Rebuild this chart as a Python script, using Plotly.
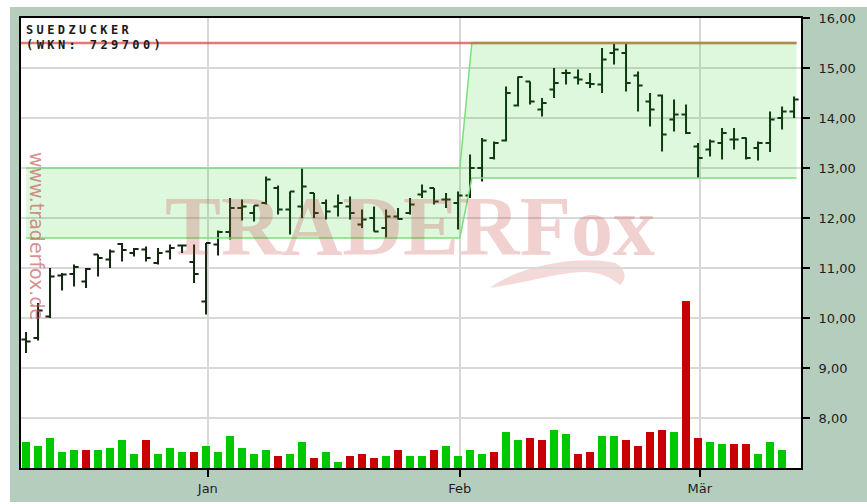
import plotly.graph_objects as go

# ---------------- data ----------------
opens = [9.57, 9.60, 10.03, 10.85, 10.88, 10.73, 11.27, 11.17, 11.48, 11.30,
         11.37, 11.10, 11.33, 11.45, 11.12, 10.33, 11.47, 11.72, 12.20, 12.10,
         12.30, 12.60, 12.17, 12.23, 12.50, 12.30, 12.23, 12.23, 11.87, 12.00,
         11.80, 12.03, 12.10, 12.47, 12.60, 12.37, 12.30, 12.45, 13.00, 13.20,
         13.55, 14.25, 14.73, 14.17, 14.57, 14.90, 14.81, 14.70, 14.67, 15.30,
         15.30, 14.85, 14.33, 14.45, 13.97, 14.07, 13.43, 13.37, 13.50, 13.57,
         13.60, 13.40, 13.50, 14.00, 14.13]
highs = [9.72, 10.30, 11.00, 10.90, 11.07, 11.00, 11.27, 11.37, 11.50, 11.40,
         11.43, 11.40, 11.47, 11.47, 11.47, 11.50, 11.75, 12.40, 12.37, 12.25,
         12.83, 12.65, 12.53, 13.00, 12.50, 12.37, 12.47, 12.43, 12.17, 12.23,
         12.17, 12.20, 12.40, 12.67, 12.60, 12.50, 12.53, 13.27, 13.60, 13.53,
         14.63, 14.83, 14.73, 14.40, 15.00, 14.97, 14.97, 14.90, 15.40, 15.50,
         15.50, 14.93, 14.50, 14.47, 14.37, 14.27, 13.50, 13.57, 13.80, 13.80,
         13.61, 13.53, 14.13, 14.23, 14.43]
lows = [9.30, 9.55, 10.00, 10.55, 10.63, 10.60, 10.83, 11.00, 11.13, 11.23,
        11.13, 11.07, 11.17, 11.30, 10.70, 10.07, 11.25, 11.57, 11.95, 11.93,
        12.27, 12.07, 11.67, 12.00, 12.00, 11.97, 12.03, 11.97, 11.80, 11.73,
        11.60, 11.97, 12.07, 12.40, 12.27, 12.20, 11.77, 12.40, 12.73, 13.17,
        13.53, 14.23, 14.27, 14.03, 14.40, 14.67, 14.67, 14.60, 14.50, 15.07,
        14.53, 14.13, 13.83, 13.33, 13.73, 13.68, 12.80, 13.23, 13.17, 13.37,
        13.17, 13.15, 13.32, 13.77, 14.00]
closes = [9.53, 10.15, 10.83, 10.87, 11.02, 10.98, 11.20, 11.33, 11.36, 11.38,
          11.20, 11.30, 11.40, 11.45, 10.88, 11.50, 11.72, 12.20, 12.23, 12.25,
          12.77, 12.17, 12.53, 12.63, 12.10, 12.13, 12.30, 12.10, 11.97, 11.73,
          12.03, 11.98, 12.27, 12.53, 12.33, 12.37, 12.45, 13.00, 13.55, 13.50,
          14.50, 14.82, 14.33, 14.30, 14.70, 14.90, 14.77, 14.68, 15.17, 15.37,
          14.70, 14.65, 14.17, 13.67, 14.07, 13.70, 13.20, 13.53, 13.70, 13.57,
          13.20, 13.50, 13.97, 14.13, 14.37]
# volume in thousand shares (last trading day has no volume yet)
volumes = [315, 270, 365, 195, 220, 220, 220, 245, 340, 170,
           340, 170, 245, 195, 195, 270, 195, 390, 245, 170,
           220, 150, 170, 315, 125, 195, 75, 150, 170, 125,
           150, 220, 150, 150, 220, 270, 150, 220, 170, 195,
           435, 340, 365, 340, 460, 410, 170, 195, 390, 390,
           340, 270, 435, 460, 435, 2000, 365, 315, 290, 290,
           290, 170, 315, 220]

month_labels = ["Jan", "Feb", "Mär"]
month_first_day = [15, 36, 56]
price_ticks = [8, 9, 10, 11, 12, 13, 14, 15, 16]

# trading channel (support / resistance band) and resistance level
band_x = [0, 36.15, 37.15, 64.2]
band_upper = [13.0, 13.0, 15.5, 15.5]
band_lower = [11.6, 11.6, 12.8, 12.8]
resistance_level = 15.5

x_range = [-0.42, 64.58]
y_range = [7, 16]
vol_range = [0, 5400]

# ---------------- derived ----------------
days = list(range(len(closes)))
vol_days = days[:len(volumes)]
vol_colors = ["#00c800" if (i == 0 or closes[i] >= closes[i - 1]) else "#c80000"
              for i in vol_days]

W, H = 867, 504
ML, MR, MT, MB = 21, 66, 18, 36
PW, PH = W - ML - MR, H - MT - MB


def px(x):
    return (x - ML) / PW


def py(y):
    return (H - MB - y) / PH


fig = go.Figure()

# band fill
fig.add_trace(go.Scatter(
    x=band_x + band_x[::-1], y=band_upper + band_lower[::-1],
    fill="toself", fillcolor="rgba(0,200,0,0.13)", mode="lines",
    line=dict(width=0), hoverinfo="skip"))
fig.add_trace(go.Scatter(x=band_x, y=band_upper, mode="lines",
                         line=dict(color="rgb(125,222,125)", width=1.5), hoverinfo="skip"))
fig.add_trace(go.Scatter(x=band_x, y=band_lower, mode="lines",
                         line=dict(color="rgb(125,222,125)", width=1.5), hoverinfo="skip"))
# resistance line
fig.add_trace(go.Scatter(x=[x_range[0], band_x[-1]], y=[resistance_level] * 2, mode="lines",
                         line=dict(color="rgba(222,75,75,0.75)", width=2.5), hoverinfo="skip"))
# where the channel top coincides with the resistance, the two lines blend
ov_x = [x for x, u in zip(band_x, band_upper) if u == resistance_level]
fig.add_trace(go.Scatter(x=ov_x, y=[resistance_level] * len(ov_x), mode="lines",
                         line=dict(color="rgba(140,165,60,0.55)", width=2.5), hoverinfo="skip"))

# OHLC bars
fig.add_trace(go.Ohlc(
    x=days, open=opens, high=highs, low=lows, close=closes,
    increasing=dict(line=dict(color="#122612", width=2)),
    decreasing=dict(line=dict(color="#122612", width=2)),
    tickwidth=0.38, hoverinfo="skip"))

# volume
fig.add_trace(go.Bar(x=vol_days, y=volumes, yaxis="y2", width=0.66,
                     marker=dict(color=vol_colors, line=dict(width=0)), hoverinfo="skip"))

tickfont = dict(family="DejaVu Sans", size=13, color="#1e1e1e")

fig.update_layout(
    width=W, height=H,
    margin=dict(l=ML, r=MR, t=MT, b=MB, autoexpand=False),
    paper_bgcolor="white",
    plot_bgcolor="rgba(0,0,0,0)",
    separators=",.",
    showlegend=False,
    bargap=0,
    xaxis=dict(range=x_range, tickvals=[d + 0.15 for d in month_first_day], ticktext=month_labels,
               ticks="outside", ticklen=7, tickwidth=2, tickcolor="black",
               showgrid=True, gridcolor="#d8d8d8", gridwidth=2,
               showline=True, linecolor="black", linewidth=2, mirror=True, automargin=False,
               zeroline=False, rangeslider=dict(visible=False), tickfont=tickfont),
    yaxis=dict(range=y_range, side="right", tickvals=price_ticks, tickformat=".2f",
               ticks="outside", ticklen=7, tickwidth=2, tickcolor="black",
               showgrid=True, gridcolor="#d8d8d8", gridwidth=2,
               showline=True, linecolor="black", linewidth=2, mirror=True, automargin=False,
               zeroline=False, tickfont=tickfont, ticklabelstandoff=6),
    yaxis2=dict(range=vol_range, overlaying="y", visible=False),
)

# frame and plot background
fig.add_shape(type="rect", xref="paper", yref="paper", layer="below",
              x0=px(10), x1=px(W + 5), y0=py(502), y1=py(7),
              fillcolor="#b5cdbd", line=dict(width=0))
fig.add_shape(type="rect", xref="paper", yref="paper", layer="below",
              x0=0, x1=1, y0=0, y1=1, fillcolor="white", line=dict(width=0))

# fox tail of watermark
tail = [(490, 288), (520, 265), (580, 255), (615, 263), (625, 268), (628, 278), (620, 285),
        (612, 278), (600, 272), (585, 272), (560, 272), (530, 282), (490, 288)]
p = [(px(a), py(b)) for a, b in tail]
path = (f"M {p[0][0]},{p[0][1]} C {p[1][0]},{p[1][1]} {p[2][0]},{p[2][1]} {p[3][0]},{p[3][1]} "
        f"C {p[4][0]},{p[4][1]} {p[5][0]},{p[5][1]} {p[6][0]},{p[6][1]} "
        f"C {p[7][0]},{p[7][1]} {p[8][0]},{p[8][1]} {p[9][0]},{p[9][1]} "
        f"C {p[10][0]},{p[10][1]} {p[11][0]},{p[11][1]} {p[12][0]},{p[12][1]} Z")
fig.add_shape(type="path", xref="paper", yref="paper", layer="below", path=path,
              fillcolor="rgba(205,80,80,0.22)", line=dict(width=0))

# watermark
fig.add_annotation(text="<b>TRADERFox</b>", xref="paper", yref="paper",
                   x=px(410), y=py(226), xanchor="center", yanchor="middle", showarrow=False,
                   font=dict(family="Liberation Serif", size=84, color="rgba(195,60,60,0.24)"))
fig.add_annotation(text="www.traderfox.de", xref="paper", yref="paper", textangle=90,
                   x=px(37), y=py(236), xanchor="center", yanchor="middle", showarrow=False,
                   font=dict(family="DejaVu Sans", size=19, color="rgba(195,80,80,0.65)"))

# title
fig.add_annotation(text="<b>SUEDZUCKER</b>", xref="paper", yref="paper",
                   x=px(24), y=py(30), xanchor="left", yanchor="middle", showarrow=False,
                   font=dict(family="DejaVu Sans Mono", size=12, color="#1a1a1a"))
fig.add_annotation(text="<b>(WKN: 729700)</b>", xref="paper", yref="paper",
                   x=px(24), y=py(45), xanchor="left", yanchor="middle", showarrow=False,
                   font=dict(family="DejaVu Sans Mono", size=12, color="#1a1a1a"))

post = """
document.body.style.margin='0';
document.body.style.overflow='hidden';
document.querySelectorAll('g.annotation text').forEach(function(t){
  var s = t.textContent;
  if (s.indexOf('SUEDZUCKER') === 0 || s.indexOf('(WKN') === 0) {
    var sp = 3.4;
    t.style.letterSpacing = sp + 'px';
    t.style.transform = 'translate(' + (s.length * sp / 2) + 'px,0px)';
  }
});
"""
fig.write_html("out.html", config={"displayModeBar": False}, post_script=post)
